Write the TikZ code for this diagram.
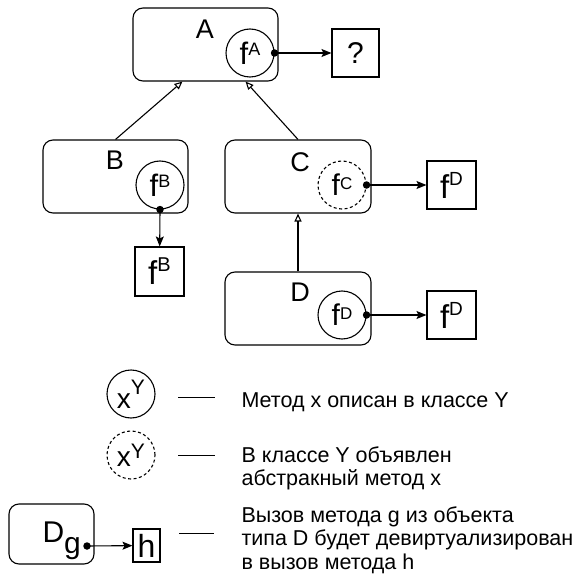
\documentclass[tikz,border=0pt]{standalone}
\usepackage{fontspec}
\setmainfont{Liberation Sans}
\usetikzlibrary{arrows.meta}

% base letter, then a raised smaller superscript
% #1 base size, #2 sup size, #3 raise, #4 base text, #5 sup text
\newcommand{\supfmt}[5]{{\fontsize{#1}{#1}\selectfont #4}\raisebox{#3}{\fontsize{#2}{#2}\selectfont #5}}

\begin{document}
\begin{tikzpicture}[x=1pt,y=-1pt,
  line width=1.1pt,
  cls/.style={draw, rounded corners=10pt, minimum width=145pt, minimum height=73pt, inner sep=0pt},
  meth/.style={draw, circle, minimum size=48pt, inner sep=0pt},
  absmeth/.style={meth, dash pattern=on 3pt off 2.5pt},
  tgt/.style={draw, minimum width=48pt, minimum height=48pt, inner sep=0pt},
  lbl/.style={inner sep=0pt, font=\fontsize{27}{27}\selectfont},
  call/.style={-{Stealth[length=10pt,width=8pt,inset=2pt]}},
  inherit/.style={-{Triangle[open,length=8pt,width=7pt]}},
  dotc/.style={fill, circle, inner sep=0pt, minimum size=7.5pt},
  note/.style={anchor=north west, align=left, inner sep=0pt, font=\fontsize{21.5}{23.5}\selectfont},
  rule/.style={line width=0.9pt}
]
\useasboundingbox (0,0) rectangle (581,575);

% ---- class A ----
\node[cls] (A) at (205.5,44.5) {};
\node[lbl] (Alab) at (205,29) {A};
\node[meth] (fA) at (250,53) {\supfmt{31}{18}{9pt}{f}{A}};
\node[tgt, minimum width=47pt] (q) at (355.5,53) {\fontsize{30}{30}\selectfont ?};
\draw[call] (fA.east) -- (q);
\node[dotc] (fAdot) at (fA.east) {};

% ---- class B ----
\node[cls] (B) at (115.5,176.5) {};
\node[lbl] (Blab) at (115,160) {B};
\node[meth] (fB) at (160,185) {\supfmt{31}{18}{9pt}{f}{B}};
\node[tgt, minimum width=49pt, minimum height=49pt] (tB) at (159.5,271.5) {\supfmt{33}{20}{13pt}{f}{B}};
\draw[call] (fB.south) -- (tB);
\node[dotc] (fBdot) at (fB.south) {};

% ---- class C ----
\node[cls, minimum width=146pt] (C) at (298,176.5) {};
\node[lbl] (Clab) at (300,162) {C};
\node[absmeth] (fC) at (342,185) {\supfmt{30}{17}{6pt}{f}{C}};
\node[tgt, minimum width=49pt] (tC) at (451.5,185) {\supfmt{33}{19}{13pt}{f}{D}};
\draw[call] (fC.east) -- (tC);
\node[dotc] (fCdot) at (fC.east) {};

% ---- class D ----
\node[cls, minimum width=146pt] (D) at (298,308.5) {};
\node[lbl] (Dlab) at (300,292) {D};
\node[meth] (fD) at (342,315) {\supfmt{30}{17}{6pt}{f}{D}};
\node[tgt, minimum width=49pt] (tD) at (451.5,315) {\supfmt{33}{19}{13pt}{f}{D}};
\draw[call] (fD.east) -- (tD);
\node[dotc] (fDdot) at (fD.east) {};

% ---- inheritance ----
\draw[inherit] (B.north) -- ([xshift=50pt]A.south west);
\draw[inherit] (C.north) -- ([xshift=-33pt]A.south east);
\draw[inherit] (D.north) -- (C.south);

% ---- legend ----
\node[meth] (lx1) at (131,394) {\supfmt{28}{21}{14pt}{x}{Y}};
\node[absmeth] (lx2) at (131,455) {\supfmt{28}{21}{8pt}{x}{Y}};

\node[cls, minimum width=85pt, minimum height=60pt] (Dg) at (51.5,534) {};
\node[inner sep=0pt, anchor=base west] (Dglab) at (42,542)
  {\fontsize{30}{30}\selectfont D\raisebox{-11pt}{g}};
\coordinate (gdot) at (87,546);
\node[draw, minimum width=27pt, minimum height=33pt, inner sep=0pt] (h) at (146.5,545.5)
  {\fontsize{32}{32}\selectfont h};
\draw[call] (gdot) -- (h);
\node[dotc] (gdotmark) at (gdot) {};

\coordinate (r1a) at (178,397); \coordinate (r1b) at (215,397);
\coordinate (r2a) at (178,455); \coordinate (r2b) at (215,455);
\coordinate (r3a) at (179,533); \coordinate (r3b) at (214,533);
\draw[rule] (r1a) -- (r1b);
\draw[rule] (r2a) -- (r2b);
\draw[rule] (r3a) -- (r3b);

\node[note] (t1) at (241,392) {Метод x описан в классе Y};
\node[note] (t2) at (241,446) {В классе Y объявлен\\абстракный метод x};
\node[note] (t3) at (241,506) {Вызов метода g из объекта\\типа D будет девиртуализирован\\в вызов метода h};
\end{tikzpicture}
\end{document}
